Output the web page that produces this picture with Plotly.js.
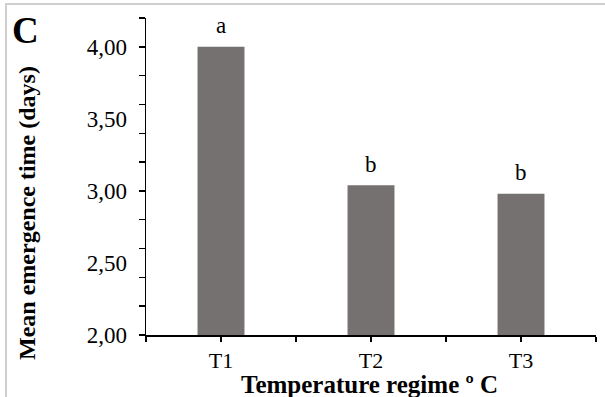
<!DOCTYPE html>
<html>
<head>
<meta charset="utf-8">
<script src="https://cdn.plot.ly/plotly-3.0.1.min.js"></script>
<style>
  html, body { margin: 0; padding: 0; background: #fff; }
  #wrap { position: relative; width: 605px; height: 397px; overflow: hidden; }
  #chart { width: 605px; height: 397px; }
  #frameTop { position: absolute; left: 6px; top: 3px; width: 599px; height: 2px; background: #cfcfcf; }
  #frameLeft { position: absolute; left: 5px; top: 3px; width: 2px; height: 394px; background: #cfcfcf; }
</style>
</head>
<body>
<div id="wrap">
  <div id="chart"></div>
  <div id="frameTop"></div>
  <div id="frameLeft"></div>
</div>
<script>
// ---- data ----
const categories = ['T1', 'T2', 'T3'];
const meanEmergence = [4.00, 3.04, 2.98];
const groupLetters = ['a', 'b', 'b'];
const yTickValues = [2.0, 2.5, 3.0, 3.5, 4.0];
const yTickLabels = ['2,00', '2,50', '3,00', '3,50', '4,00'];
const panelLabel = 'C';
const xTitle = 'Temperature regime º C';
const yTitle = 'Mean emergence time (days)';

// ---- build ----
const serif = 'Liberation Serif, Times New Roman, serif';
const xIdx = categories.map((c, i) => i);

const xTickVals = [];
const xTickText = [];
for (let k = 0; k <= 2 * categories.length; k++) {
  xTickVals.push(-0.5 + k * 0.5);
  xTickText.push(k % 2 === 1 ? categories[(k - 1) / 2] : '');
}

const barTrace = {
  type: 'bar',
  x: xIdx,
  y: meanEmergence,
  width: 0.313,
  marker: { color: '#767171', line: { width: 0 } },
  hoverinfo: 'skip',
  showlegend: false
};

// invisible helper so the labelled overlay axis is drawn
const labelAxisTrace = {
  type: 'scatter', mode: 'none',
  x: xIdx, y: meanEmergence,
  yaxis: 'y2', hoverinfo: 'skip', showlegend: false
};

const annotations = groupLetters.map((t, i) => ({
  x: xIdx[i], y: meanEmergence[i], xref: 'x', yref: 'y',
  text: t, showarrow: false, yanchor: 'middle', yshift: 21,
  font: { family: serif, size: 23, color: '#000' }
}));
annotations.push({
  xref: 'paper', yref: 'paper', x: -0.267, y: 0.959,
  text: '<b>' + panelLabel + '</b>', showarrow: false,
  xanchor: 'center', yanchor: 'middle',
  font: { family: serif, size: 37, color: '#000' }
});
annotations.push({
  xref: 'paper', yref: 'paper', x: 0.4956, y: -0.1577,
  text: '<b>' + xTitle + '</b>', showarrow: false,
  xanchor: 'center', yanchor: 'middle', borderpad: 0,
  font: { family: serif, size: 25, color: '#000' }
});
annotations.push({
  xref: 'paper', yref: 'paper', x: -0.2644, y: 0.385,
  text: '<b>' + yTitle + '</b>', showarrow: false, textangle: -90,
  xanchor: 'center', yanchor: 'middle',
  font: { family: serif, size: 24, color: '#000' }
});

const layout = {
  width: 605, height: 397,
  margin: { l: 146, r: 9, t: 18, b: 62, pad: 0 },
  paper_bgcolor: 'rgba(0,0,0,0)', plot_bgcolor: 'rgba(0,0,0,0)',
  showlegend: false,
  xaxis: {
    type: 'linear', range: [-0.5, 2.5],
    tickmode: 'array', tickvals: xTickVals, ticktext: xTickText,
    ticks: 'outside', ticklen: 5, tickwidth: 1.5, tickcolor: '#000',
    showline: true, linecolor: '#000', linewidth: 1.5,
    showgrid: false, zeroline: false,
    tickfont: { family: serif, size: 22, color: '#000' },
    automargin: false, fixedrange: true
  },
  yaxis: {
    type: 'linear', range: [2, 4.2],
    tick0: 2, dtick: 0.2, tickmode: 'linear',
    ticks: 'outside', ticklen: 6, tickwidth: 1.5, tickcolor: '#000',
    showticklabels: false,
    showline: true, linecolor: '#000', linewidth: 1.5,
    showgrid: false, zeroline: false,
    automargin: false, fixedrange: true
  },
  yaxis2: {
    overlaying: 'y', anchor: 'x', side: 'left', range: [2, 4.2],
    tickmode: 'array', tickvals: yTickValues, ticktext: yTickLabels,
    ticks: '', showline: false, showgrid: false, zeroline: false,
    ticklabelstandoff: 18,
    tickfont: { family: serif, size: 23, color: '#000' },
    automargin: false, fixedrange: true
  },
  annotations: annotations
};

Plotly.newPlot('chart', [barTrace, labelAxisTrace], layout, { displayModeBar: false, staticPlot: true });
</script>
</body>
</html>
